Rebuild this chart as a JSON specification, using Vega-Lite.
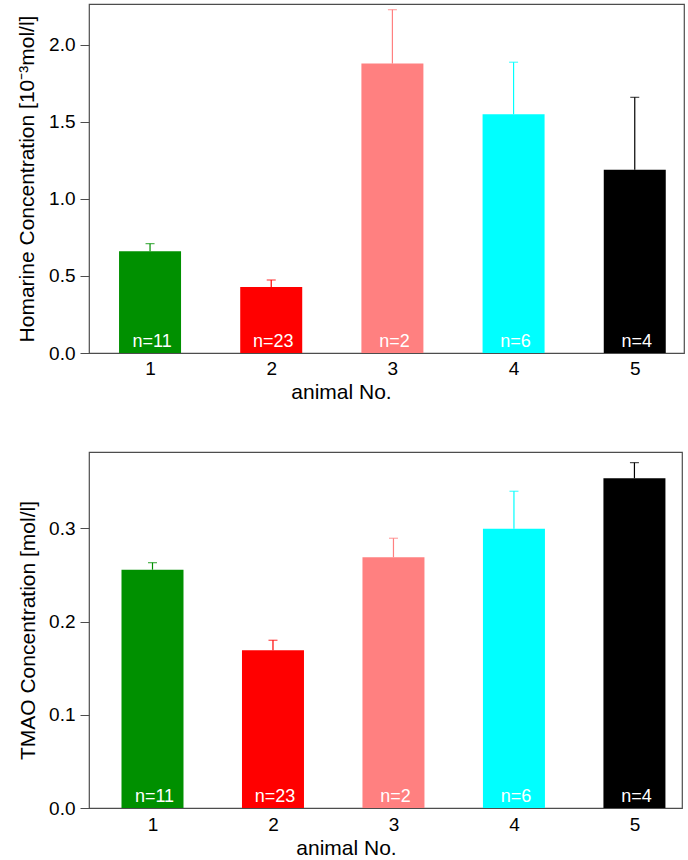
{
  "$schema": "https://vega.github.io/schema/vega-lite/v6.json",
  "autosize": {"type": "pad"},
  "padding": {"left": 15, "top": 3, "right": 0, "bottom": 0},
  "background": "white",
  "datasets": {
    "homarine": [
      {"animal": 1, "mean": 0.66, "upper": 0.71, "n": "n=11"},
      {"animal": 2, "mean": 0.429, "upper": 0.474, "n": "n=23"},
      {"animal": 3, "mean": 1.879, "upper": 2.229, "n": "n=2"},
      {"animal": 4, "mean": 1.55, "upper": 1.888, "n": "n=6"},
      {"animal": 5, "mean": 1.19, "upper": 1.66, "n": "n=4"}
    ],
    "tmao": [
      {"animal": 1, "mean": 0.2556, "upper": 0.2631, "n": "n=11"},
      {"animal": 2, "mean": 0.1692, "upper": 0.1799, "n": "n=23"},
      {"animal": 3, "mean": 0.2689, "upper": 0.2893, "n": "n=2"},
      {"animal": 4, "mean": 0.2996, "upper": 0.3397, "n": "n=6"},
      {"animal": 5, "mean": 0.3536, "upper": 0.3704, "n": "n=4"}
    ]
  },
  "bounds": "flush",
  "spacing": 99,
  "vconcat": [
    {
      "width": 595,
      "height": 349,
      "data": {"name": "homarine"},
      "encoding": {
        "x": {
          "field": "animal", "type": "quantitative",
          "scale": {"domain": [0.5375, 5.3651], "nice": false, "zero": false},
          "axis": {"values": [1, 2, 3, 4, 5], "format": "d", "title": "animal No.", "titleX": 252, "titleY": 45, "titleBaseline": "alphabetic", "labelBaseline": "alphabetic", "labelPadding": 21}
        },
        "color": {
          "field": "animal", "type": "nominal",
          "scale": {"domain": [1, 2, 3, 4, 5], "range": ["#009000", "#ff0000", "#ff8080", "#00ffff", "#000000"]},
          "legend": null
        }
      },
      "layer": [
        {
          "mark": {"type": "bar", "size": 62, "orient": "vertical"},
          "encoding": {
            "y": {
              "field": "mean", "type": "quantitative",
              "scale": {"domain": [0, 2.266], "nice": false},
              "axis": {"values": [0, 0.5, 1, 1.5, 2], "format": ".1f", "title": "Homarine Concentration [10⁻³mol/l]", "titleX": -56, "titleBaseline": "alphabetic"}
            }
          }
        },
        {
          "mark": {"type": "rule", "strokeWidth": 1.2},
          "encoding": {
            "y": {"field": "mean", "type": "quantitative"},
            "y2": {"field": "upper"}
          }
        },
        {
          "mark": {"type": "tick", "orient": "horizontal", "size": 9, "thickness": 1.2},
          "encoding": {
            "y": {"field": "upper", "type": "quantitative"}
          }
        },
        {
          "mark": {"type": "text", "baseline": "alphabetic", "dy": -6, "dx": 2, "fontSize": 18, "color": "white"},
          "encoding": {
            "y": {"datum": 0, "type": "quantitative"},
            "text": {"field": "n"},
            "color": {"value": "white"}
          }
        }
      ]
    },
    {
      "width": 593,
      "height": 356,
      "data": {"name": "tmao"},
      "encoding": {
        "x": {
          "field": "animal", "type": "quantitative",
          "scale": {"domain": [0.5145, 5.3533], "nice": false, "zero": false},
          "axis": {"values": [1, 2, 3, 4, 5], "format": "d", "title": "animal No.", "titleX": 257, "titleY": 46, "titleBaseline": "alphabetic", "labelBaseline": "alphabetic", "labelPadding": 22}
        },
        "color": {
          "field": "animal", "type": "nominal",
          "scale": {"domain": [1, 2, 3, 4, 5], "range": ["#009000", "#ff0000", "#ff8080", "#00ffff", "#000000"]},
          "legend": null
        }
      },
      "layer": [
        {
          "mark": {"type": "bar", "size": 62, "orient": "vertical"},
          "encoding": {
            "y": {
              "field": "mean", "type": "quantitative",
              "scale": {"domain": [0, 0.3818], "nice": false},
              "axis": {"values": [0, 0.1, 0.2, 0.3], "format": ".1f", "title": "TMAO Concentration [mol/l]", "titleX": -55, "titleBaseline": "alphabetic"}
            }
          }
        },
        {
          "mark": {"type": "rule", "strokeWidth": 1.2},
          "encoding": {
            "y": {"field": "mean", "type": "quantitative"},
            "y2": {"field": "upper"}
          }
        },
        {
          "mark": {"type": "tick", "orient": "horizontal", "size": 9, "thickness": 1.2},
          "encoding": {
            "y": {"field": "upper", "type": "quantitative"}
          }
        },
        {
          "mark": {"type": "text", "baseline": "alphabetic", "dy": -6, "dx": 2, "fontSize": 18, "color": "white"},
          "encoding": {
            "y": {"datum": 0, "type": "quantitative"},
            "text": {"field": "n"},
            "color": {"value": "white"}
          }
        }
      ]
    }
  ],
  "resolve": {"scale": {"x": "independent", "y": "independent", "color": "independent"}},
  "config": {
    "font": "Liberation Sans",
    "view": {"stroke": "#4d4d4d", "strokeWidth": 1.2},
    "axis": {
      "grid": false,
      "labelFont": "Liberation Sans",
      "labelFontSize": 19,
      "labelColor": "#000000",
      "titleFont": "Liberation Sans",
      "titleFontSize": 21,
      "titleFontWeight": "normal",
      "titleColor": "#000000",
      "domainColor": "#4d4d4d",
      "tickColor": "#4d4d4d",
      "labelFlush": false,
      "labelOverlap": false
    },
    "axisX": {"ticks": false, "tickSize": 0, "domain": false},
    "axisY": {"ticks": true, "tickSize": 9, "labelPadding": 5, "domain": false}
  }
}
